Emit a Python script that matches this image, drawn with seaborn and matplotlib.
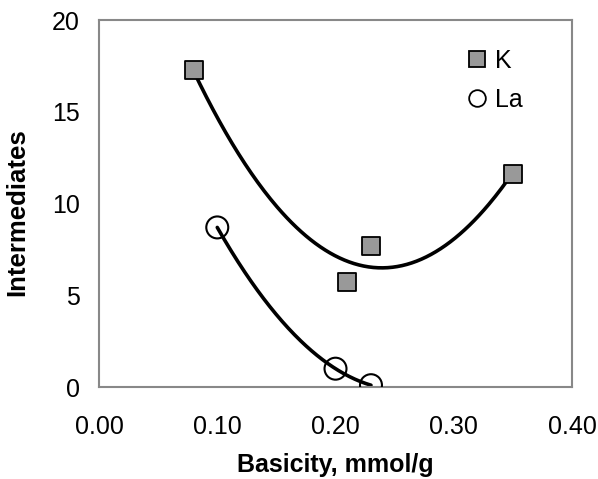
import numpy as np
import pandas as pd
import matplotlib
matplotlib.use("Agg")
import matplotlib.pyplot as plt
import seaborn as sns
from matplotlib.lines import Line2D

# Data
k_basicity = [0.08, 0.21, 0.23, 0.35]
k_intermediates = [17.3, 5.7, 7.7, 11.6]
la_basicity = [0.10, 0.20, 0.23]
la_intermediates = [8.7, 1.0, 0.1]
x_ticks = [0.00, 0.10, 0.20, 0.30, 0.40]
y_ticks = [0, 5, 10, 15, 20]

sns.set_theme(style="white")
plt.rcParams['font.family'] = ['Liberation Sans', 'DejaVu Sans']
plt.rcParams['text.color'] = 'black'
plt.rcParams['axes.labelcolor'] = 'black'

fig = plt.figure(figsize=(5.98, 4.79), dpi=100)
ax = fig.add_axes([0.1656, 0.192, 0.7909, 0.766])

k_df = pd.DataFrame({"x": k_basicity, "y": k_intermediates})
la_df = pd.DataFrame({"x": la_basicity, "y": la_intermediates})

# polynomial (order 2) trend lines, as in the original
def trend(df):
    c = np.polyfit(df["x"], df["y"], 2)
    xs = np.linspace(df["x"].min(), df["x"].max(), 200)
    return pd.DataFrame({"x": xs, "y": np.polyval(c, xs)})

sns.lineplot(data=trend(k_df), x="x", y="y", color="black", lw=2.6, ax=ax, zorder=2)
sns.lineplot(data=trend(la_df), x="x", y="y", color="black", lw=2.6, ax=ax, zorder=2)

sns.scatterplot(data=k_df, x="x", y="y", marker="s", s=150, color="#999999",
                edgecolor="black", linewidth=1.3, ax=ax, zorder=3)
sns.scatterplot(data=la_df, x="x", y="y", marker="o", s=250, facecolor="none",
                edgecolor="black", linewidth=1.5, ax=ax, zorder=3)

ax.set_xlim(0, 0.40)
ax.set_ylim(0, 20)
ax.set_xticks(x_ticks)
ax.set_xticklabels([f"{v:.2f}" for v in x_ticks])
ax.set_yticks(y_ticks)
ax.set_yticklabels([str(v) for v in y_ticks])

for s in ax.spines.values():
    s.set_color("#888888")
    s.set_linewidth(1.5)
ax.tick_params(axis="both", direction="out", length=7, width=1.2, color="#888888",
               labelsize=18, labelcolor="black", pad=7)
ax.tick_params(axis="x", pad=13)

ax.set_xlabel("Basicity, mmol/g", fontsize=18, fontweight="bold", labelpad=10, color="black")
ax.set_ylabel("Intermediates", fontsize=18.5, fontweight="bold", color="black")
ax.yaxis.set_label_coords(-0.148, 0.477)

handles = [
    Line2D([], [], marker="s", linestyle="none", markersize=11, markerfacecolor="#999999",
           markeredgecolor="black", markeredgewidth=1.3),
    Line2D([], [], marker="o", linestyle="none", markersize=12, markerfacecolor="white",
           markeredgecolor="black", markeredgewidth=1.3),
]
leg = ax.legend(handles, ["K", "La"], loc="upper left", bbox_to_anchor=(0.757, 0.948),
                frameon=False, fontsize=18, handlelength=0.8, handletextpad=0.3,
                labelspacing=0.6, borderaxespad=0)
for t in leg.get_texts():
    t.set_color("black")

fig.savefig("out.png", dpi=100)
